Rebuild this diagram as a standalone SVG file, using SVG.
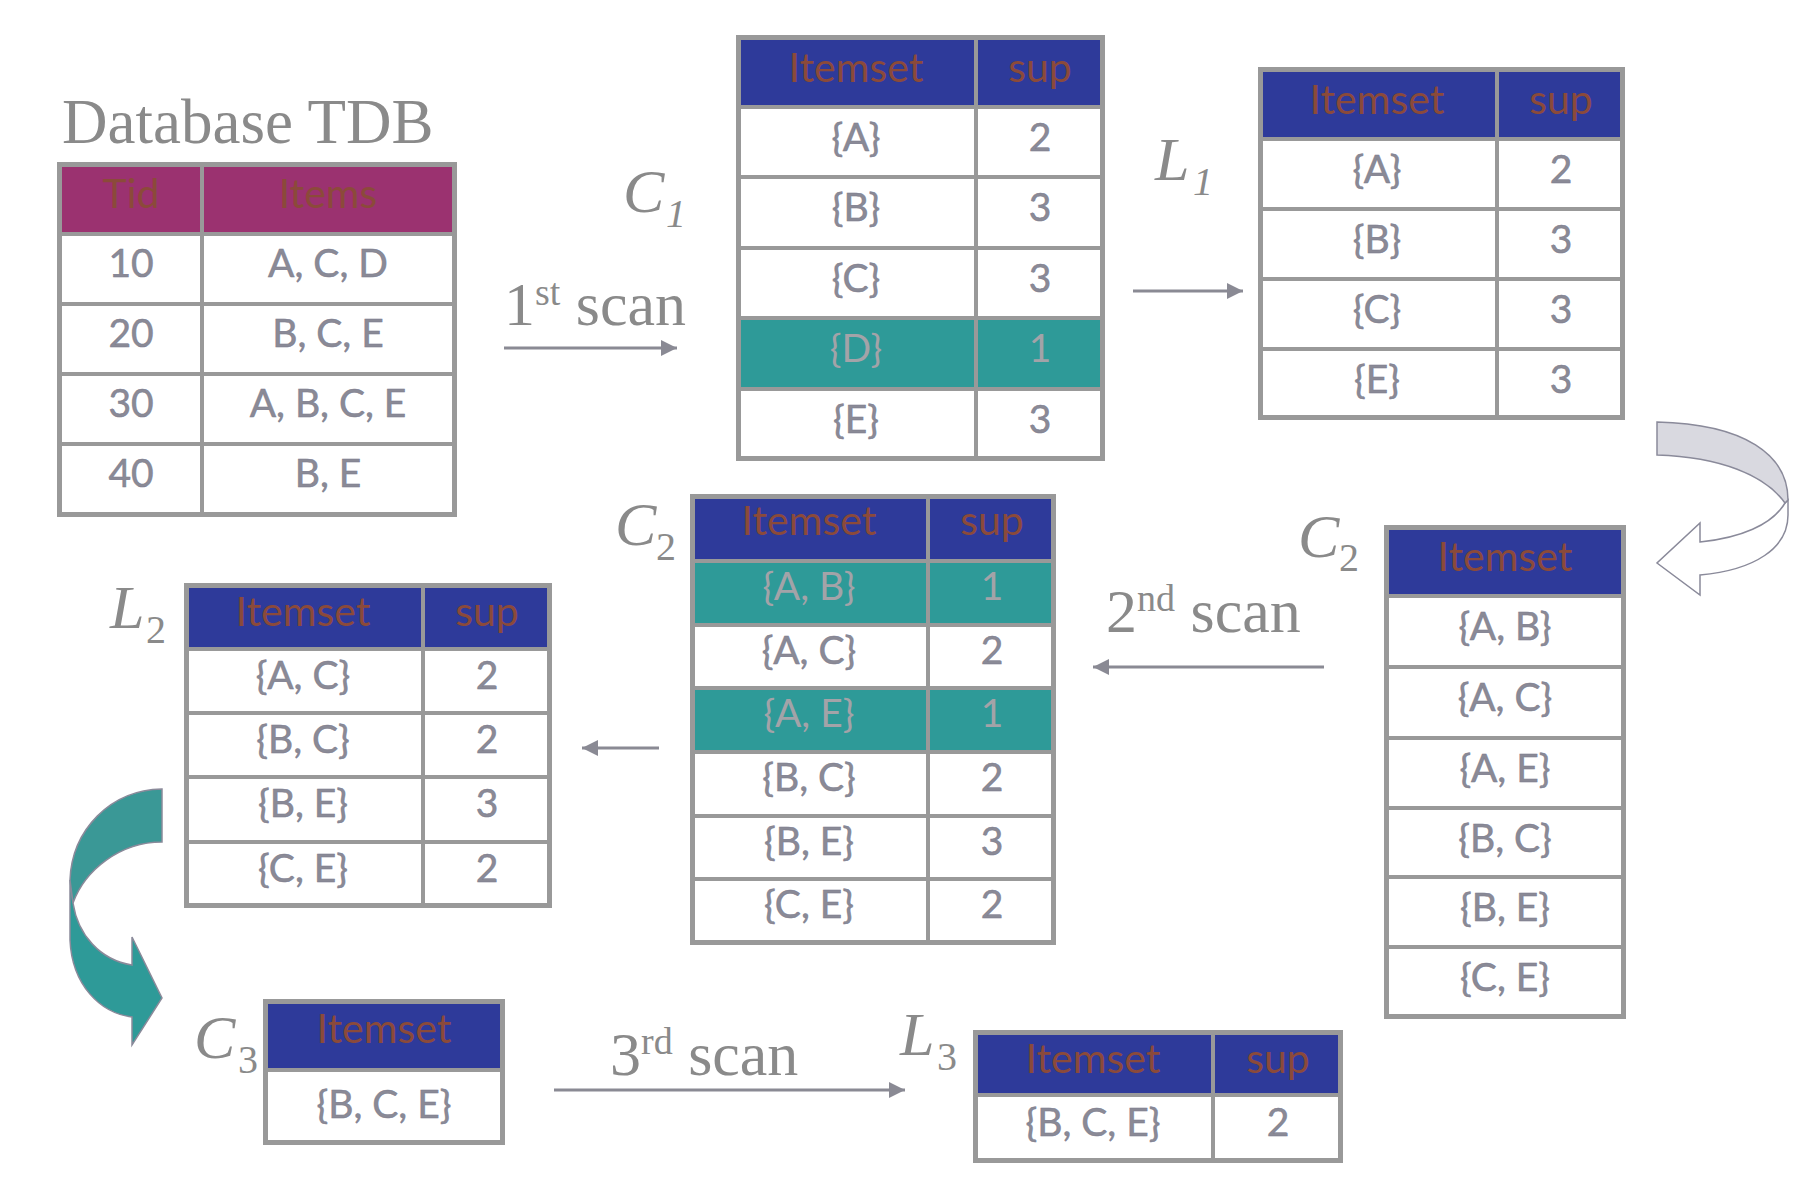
<svg xmlns="http://www.w3.org/2000/svg" width="1814" height="1186" viewBox="0 0 1814 1186">
<defs>
<style>
.frame{fill:none;stroke:#999999;stroke-width:5}
.grid{fill:none;stroke:#999999;stroke-width:4}
.bg{fill:#ffffff}
.hb{fill:#2E3A9A}
.hp{fill:#9B3270}
.tr{fill:#2E9A98}
.ht{font-family:Lato,"Open Sans",sans-serif;font-size:41px;fill:#8B4A3A;text-anchor:middle}
.ct{font-family:Lato,"Open Sans",sans-serif;font-size:39px;fill:#8a8a96;stroke:#7a7a8c;stroke-width:0.5;text-anchor:middle}
.tt{font-family:Lato,"Open Sans",sans-serif;font-size:39px;fill:#a3a3a8;text-anchor:middle}
.lab{font-family:"Liberation Serif",serif;font-size:62px;font-style:italic;fill:#8a8a8a}
.sub{font-family:"Liberation Serif",serif;font-size:40px;fill:#8a8a8a}
.scan{font-family:"Liberation Serif",serif;font-size:62px;fill:#8a8a8a}
.conn{fill:none;stroke:#8a8a94;stroke-width:3}
</style>
<marker id="ah" markerUnits="userSpaceOnUse" markerWidth="17" markerHeight="17" refX="16" refY="8" orient="auto">
<path d="M0,0 L16,8 L0,16 Z" fill="#8a8a94"/>
</marker>
</defs>
<rect width="1814" height="1186" fill="#ffffff"/>

<text x="62" y="143" font-family="Liberation Serif, serif" font-size="63" fill="#8a8a8a">Database TDB</text>

<g id="tdb">
<rect class="bg" x="57" y="162" width="400" height="355"/>
<rect class="hp" x="57" y="162" width="400" height="72"/>
<path class="grid" d="M202,162V517 M57,234H457"/>
<path class="grid" stroke-width="3" d="M57,304H457 M57,374H457 M57,444H457"/>
<rect class="frame" x="59.5" y="164.5" width="395" height="350"/>
<text class="ht" x="131" y="208">Tid</text>
<text class="ht" x="328" y="208">Items</text>
<text class="ct" x="131" y="277">10</text><text class="ct" x="328" y="277">A, C, D</text>
<text class="ct" x="131" y="347">20</text><text class="ct" x="328" y="347">B, C, E</text>
<text class="ct" x="131" y="417">30</text><text class="ct" x="328" y="417">A, B, C, E</text>
<text class="ct" x="131" y="487">40</text><text class="ct" x="328" y="487">B, E</text>
</g>

<g id="c1">
<text class="lab" x="623" y="212">C</text><text class="sub" font-style="italic" x="666" y="227">1</text>
<rect class="bg" x="736" y="35" width="369" height="426"/>
<rect class="hb" x="736" y="35" width="369" height="72"/>
<rect class="tr" x="736" y="318" width="369" height="71"/>
<path class="grid" d="M976,35V461 M736,107H1105 M736,177H1105 M736,248H1105 M736,318H1105 M736,389H1105"/>
<rect class="frame" x="738.5" y="37.5" width="364" height="421"/>
<text class="ht" x="856" y="82">Itemset</text><text class="ht" x="1040" y="82">sup</text>
<text class="ct" x="856" y="151">{A}</text><text class="ct" x="1040" y="151">2</text>
<text class="ct" x="856" y="221">{B}</text><text class="ct" x="1040" y="221">3</text>
<text class="ct" x="856" y="292">{C}</text><text class="ct" x="1040" y="292">3</text>
<text class="tt" x="856" y="362">{D}</text><text class="tt" x="1040" y="362">1</text>
<text class="ct" x="856" y="433">{E}</text><text class="ct" x="1040" y="433">3</text>
</g>

<g id="l1">
<text class="lab" x="1155" y="180">L</text><text class="sub" font-style="italic" x="1193" y="195">1</text>
<rect class="bg" x="1258" y="67" width="367" height="353"/>
<rect class="hb" x="1258" y="67" width="367" height="72"/>
<path class="grid" d="M1497,67V420 M1258,139H1625 M1258,209H1625 M1258,279H1625 M1258,349H1625"/>
<rect class="frame" x="1260.5" y="69.5" width="362" height="348"/>
<text class="ht" x="1377" y="114">Itemset</text><text class="ht" x="1561" y="114">sup</text>
<text class="ct" x="1377" y="183">{A}</text><text class="ct" x="1561" y="183">2</text>
<text class="ct" x="1377" y="253">{B}</text><text class="ct" x="1561" y="253">3</text>
<text class="ct" x="1377" y="323">{C}</text><text class="ct" x="1561" y="323">3</text>
<text class="ct" x="1377" y="393">{E}</text><text class="ct" x="1561" y="393">3</text>
</g>

<g id="c2-right">
<text class="lab" x="1298" y="557">C</text><text class="sub" x="1339" y="571">2</text>
<rect class="bg" x="1384" y="525" width="242" height="494"/>
<rect class="hb" x="1384" y="525" width="242" height="71"/>
<path class="grid" d="M1384,596H1626 M1384,667H1626 M1384,738H1626 M1384,808H1626 M1384,877H1626 M1384,947H1626"/>
<rect class="frame" x="1386.5" y="527.5" width="237" height="489"/>
<text class="ht" x="1505" y="571">Itemset</text>
<text class="ct" x="1505" y="640">{A, B}</text>
<text class="ct" x="1505" y="711">{A, C}</text>
<text class="ct" x="1505" y="782">{A, E}</text>
<text class="ct" x="1505" y="852">{B, C}</text>
<text class="ct" x="1505" y="921">{B, E}</text>
<text class="ct" x="1505" y="991">{C, E}</text>
</g>

<g id="c2-mid">
<text class="lab" x="615" y="545">C</text><text class="sub" x="656" y="560">2</text>
<rect class="bg" x="690" y="494" width="366" height="451"/>
<rect class="hb" x="690" y="494" width="366" height="67"/>
<rect class="tr" x="690" y="561" width="366" height="64"/>
<rect class="tr" x="690" y="688" width="366" height="64"/>
<path class="grid" d="M928,494V945 M690,561H1056 M690,625H1056 M690,688H1056 M690,752H1056 M690,816H1056 M690,879H1056"/>
<rect class="frame" x="692.5" y="496.5" width="361" height="446"/>
<text class="ht" x="809" y="535">Itemset</text><text class="ht" x="992" y="535">sup</text>
<text class="tt" x="809" y="600">{A, B}</text><text class="tt" x="992" y="600">1</text>
<text class="ct" x="809" y="664">{A, C}</text><text class="ct" x="992" y="664">2</text>
<text class="tt" x="809" y="727">{A, E}</text><text class="tt" x="992" y="727">1</text>
<text class="ct" x="809" y="791">{B, C}</text><text class="ct" x="992" y="791">2</text>
<text class="ct" x="809" y="855">{B, E}</text><text class="ct" x="992" y="855">3</text>
<text class="ct" x="809" y="918">{C, E}</text><text class="ct" x="992" y="918">2</text>
</g>

<g id="l2">
<text class="lab" x="110" y="628">L</text><text class="sub" x="146" y="643">2</text>
<rect class="bg" x="184" y="583" width="368" height="325"/>
<rect class="hb" x="184" y="583" width="368" height="66"/>
<path class="grid" d="M423,583V908 M184,649H552 M184,713H552 M184,777H552 M184,842H552"/>
<rect class="frame" x="186.5" y="585.5" width="363" height="320"/>
<text class="ht" x="303" y="626">Itemset</text><text class="ht" x="487" y="626">sup</text>
<text class="ct" x="303" y="689">{A, C}</text><text class="ct" x="487" y="689">2</text>
<text class="ct" x="303" y="753">{B, C}</text><text class="ct" x="487" y="753">2</text>
<text class="ct" x="303" y="817">{B, E}</text><text class="ct" x="487" y="817">3</text>
<text class="ct" x="303" y="882">{C, E}</text><text class="ct" x="487" y="882">2</text>
</g>

<g id="c3">
<text class="lab" x="194" y="1058">C</text><text class="sub" x="238" y="1073">3</text>
<rect class="bg" x="263" y="999" width="242" height="146"/>
<rect class="hb" x="263" y="999" width="242" height="71"/>
<path class="grid" d="M263,1070H505"/>
<rect class="frame" x="265.5" y="1001.5" width="237" height="141"/>
<text class="ht" x="384" y="1043">Itemset</text>
<text class="ct" x="384" y="1118">{B, C, E}</text>
</g>

<g id="l3">
<text class="lab" x="900" y="1055">L</text><text class="sub" x="937" y="1070">3</text>
<rect class="bg" x="973" y="1030" width="370" height="133"/>
<rect class="hb" x="973" y="1030" width="370" height="65"/>
<path class="grid" d="M1213,1030V1163 M973,1095H1343"/>
<rect class="frame" x="975.5" y="1032.5" width="365" height="128"/>
<text class="ht" x="1093" y="1073">Itemset</text><text class="ht" x="1278" y="1073">sup</text>
<text class="ct" x="1093" y="1136">{B, C, E}</text><text class="ct" x="1278" y="1136">2</text>
</g>

<g id="scan-labels">
<text class="scan" x="504" y="325">1<tspan font-size="38" dy="-20">st</tspan><tspan dy="20"> scan</tspan></text>
<text class="scan" x="1106" y="632">2<tspan font-size="38" dy="-21">nd</tspan><tspan dy="21"> scan</tspan></text>
<text class="scan" x="610" y="1075">3<tspan font-size="38" dy="-21">rd</tspan><tspan dy="21"> scan</tspan></text>
</g>

<g id="connectors">
<path class="conn" d="M504,348 L677,348" marker-end="url(#ah)"/>
<path class="conn" d="M1133,291 L1243,291" marker-end="url(#ah)"/>
<path class="conn" d="M1324,667 L1093,667" marker-end="url(#ah)"/>
<path class="conn" d="M659,748 L582,748" marker-end="url(#ah)"/>
<path class="conn" d="M554,1090 L905,1090" marker-end="url(#ah)"/>
<path d="M1785,503 C1772,525 1740,538 1700,542 L1700,523 L1657,563 L1700,595 L1700,575 C1755,570 1788,548 1788,515 L1788,500 Z" fill="#ffffff" stroke="#8a8a9a" stroke-width="1.5"/>
<path d="M1657,422 C1745,424 1788,455 1788,500 L1785,503 C1765,475 1720,457 1657,455 Z" fill="#d9d9e0" stroke="#8a8a9a" stroke-width="1.5"/>
<path d="M70,880 L70,940 C72,985 100,1013 132,1017 L132,1045 L162,998 L132,937 L132,965 C100,960 78,935 73,903 Z" fill="#2E9A98" stroke="#8a8a9a" stroke-width="1.5"/>
<path d="M162,789 C110,790 72,830 70,880 L73,903 C85,870 120,842 162,842 Z" fill="#3A9896" stroke="#8a8a9a" stroke-width="1.5"/>
</g>
</svg>
